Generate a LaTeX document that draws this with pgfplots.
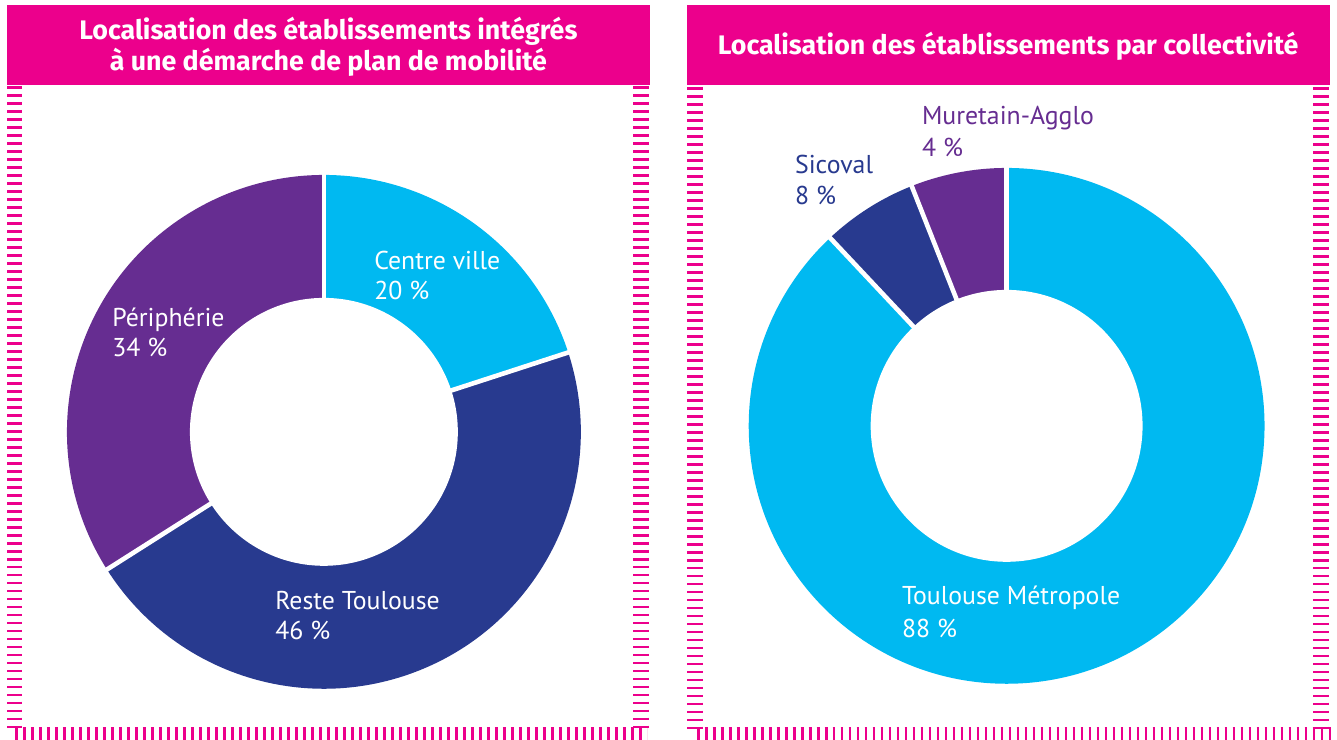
\documentclass[border=0pt]{standalone}
\usepackage{pgfplots}
\pgfplotsset{compat=1.18}
\usepackage{fontspec}
\setmainfont{PT Sans}
\newfontfamily\titlefam{Fira Sans}
\definecolor{cPink}{HTML}{EC008C}
\definecolor{cCyan}{HTML}{00B9F1}
\definecolor{cBlue}{HTML}{283A8F}
\definecolor{cPurple}{HTML}{662D91}
% slice: #1 start pct, #2 end pct, #3 colour, #4 outer radius (pt)
\newcommand\slice[4]{\fill[#3] (axis cs:0,0) -- ++({90-3.6*(#1)}:#4pt) arc[start angle={90-3.6*(#1)}, end angle={90-3.6*(#2)}, radius=#4pt] -- cycle;}
\newcommand\gap[2]{\draw[white, line width=2.3pt] (axis cs:0,0) -- ++({90-3.6*(#1)}:{#2pt+3pt});}
\newcommand\hole[1]{\fill[white] (axis cs:0,0) circle[radius=#1pt];}
\newcommand\lab{\fontsize{12.9}{15}\selectfont}
\newcommand\tit{\titlefam\fontsize{13.4}{15}\selectfont\bfseries}
\begin{document}
\begin{tikzpicture}[x=0.5pt,y=-0.5pt]
\fill[white] (0,0) rectangle (1337,740);
% title boxes
\fill[cPink] (7,5) rectangle (650,85);
\fill[cPink] (687,5) rectangle (1330,85);
% dashed borders
\begin{scope}[cPink]
\draw[line width=7.5pt, dash pattern=on 1.35pt off 2.65pt] (14.5,86) -- (14.5,729);
\draw[line width=8pt, dash pattern=on 1.35pt off 2.65pt] (641,86) -- (641,729);
\draw[line width=8pt, dash pattern=on 1.35pt off 2.65pt] (695,87) -- (695,729);
\draw[line width=8pt, dash pattern=on 1.35pt off 2.65pt] (1321,87) -- (1321,729);
\draw[line width=6.5pt, dash pattern=on 1.4pt off 2.6pt] (15,733.5) -- (647,733.5);
\draw[line width=6.5pt, dash pattern=on 1.4pt off 2.6pt] (697,733.5) -- (1331,733.5);
\end{scope}
% titles
\node[anchor=base, text=white, font=\tit, inner sep=0pt] at (328.5,39.3) {Localisation des établissements intégrés};
\node[anchor=base, text=white, font=\tit, inner sep=0pt] at (328.5,71) {à une démarche de plan de mobilité};
\node[anchor=base, text=white, font=\tit, inner sep=0pt] at (1008.5,55) {Localisation des établissements par collectivité};
% left donut  (centre at pixel 324,432)
\begin{axis}[at={(162pt,-216pt)}, anchor=center, x=0.5pt, y=0.5pt, xmin=-270, xmax=270, ymin=-270, ymax=270, hide axis, clip=false]
\slice{0}{20}{cCyan}{128.5}
\slice{20}{66}{cBlue}{128.5}
\slice{66}{100}{cPurple}{128.5}
\gap{0}{128.5}\gap{20}{128.5}\gap{66}{128.5}
\hole{67}
\end{axis}
% right donut (centre at pixel 1007,426)
\begin{axis}[at={(503.5pt,-213pt)}, anchor=center, x=0.5pt, y=0.5pt, xmin=-270, xmax=270, ymin=-270, ymax=270, hide axis, clip=false]
\slice{0}{88}{cCyan}{129}
\slice{88}{94}{cBlue}{129}
\slice{94}{100}{cPurple}{129}
\gap{0}{129}\gap{88}{129}\gap{94}{129}
\hole{68}
\end{axis}
% labels
\begin{scope}[every node/.style={anchor=base west, inner sep=0pt, font=\lab}]
\node[text=white] at (374,270) {Centre ville};
\node[text=white] at (374,300) {20 \%};
\node[text=white] at (112,327) {Périphérie};
\node[text=white] at (112,357) {34 \%};
\node[text=white] at (275,610) {Reste Toulouse};
\node[text=white] at (275,640) {46 \%};
\node[text=white] at (902,605) {Toulouse Métropole};
\node[text=white] at (902,638) {88 \%};
\node[text=cBlue] at (795,174) {Sicoval};
\node[text=cBlue] at (795,205) {8 \%};
\node[text=cPurple] at (922,125) {Muretain-Agglo};
\node[text=cPurple] at (922,157) {4 \%};
\end{scope}
\end{tikzpicture}
\end{document}
